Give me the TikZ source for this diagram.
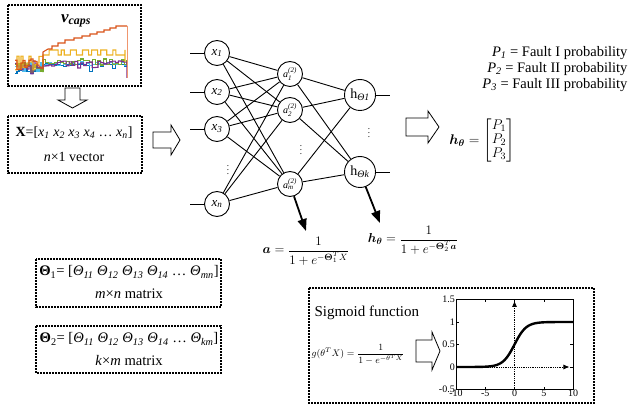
\documentclass[tikz,border=0pt]{standalone}
\usepackage{fix-cm}
\usepackage{amsmath}
\usepackage{fontspec}
\setmainfont{Liberation Serif}
\usetikzlibrary{arrows.meta}
\newcommand\fs[1]{\fontsize{#1}{#1}\selectfont}
\newcommand\Th[1]{\textit{Θ}\textsubscript{\textit{#1}}}
\newcommand\xv[1]{\textit{x}\textsubscript{\textit{#1}}}
\newcommand\harrowR[6]{\draw[harr] (#1,#2-#5) -- (#1+#3,#2-#5) -- (#1+#3,#2-#6) -- (#1+#4,#2) -- (#1+#3,#2+#6) -- (#1+#3,#2+#5) -- (#1,#2+#5) -- cycle;}
\definecolor{mO}{RGB}{217,83,25}
\definecolor{mLO}{RGB}{240,150,110}
\definecolor{mY}{RGB}{237,177,32}
\definecolor{mP}{RGB}{126,47,142}
\definecolor{mG}{RGB}{119,172,48}
\definecolor{mC}{RGB}{77,190,238}
\definecolor{mB}{RGB}{0,114,189}
\begin{document}
\begin{tikzpicture}[x=1pt,y=-1pt,
  dbox/.style={draw, line width=1.1pt, dash pattern=on 1.6pt off 1.4pt},
  neuron/.style={circle, draw, line width=0.9pt, minimum size=25pt, inner sep=0pt},
  oneuron/.style={circle, draw, line width=0.9pt, minimum size=31pt, inner sep=0pt},
  conn/.style={line width=0.9pt},
  harr/.style={line width=0.8pt, fill=white},
  bigarr/.style={line width=1.8pt, -{Triangle[length=12pt,width=9pt]}},
  chart/.style={line width=1.1pt, const plot},
  vd/.style={font=\fs{9}}]
\useasboundingbox (0,0) rectangle (637,406);

% ---------- top-left chart box ----------
\draw[dbox] (8,5) rectangle (141,86);
\node (vt) at (76,21) {\fs{17}\bfseries\itshape v\textsubscript{caps}};
\pgfmathsetseed{11}
\draw[chart, mB] plot[domain=15:43, samples=15] (\x,{66+8*rnd}) -- plot[domain=43:127, samples=30] (\x,{64+8*rnd*rnd*rnd});
\draw[chart, mC] plot[domain=15:43, samples=15] (\x,{62+10*rnd}) -- plot[domain=43:127, samples=30] (\x,{62+4*rnd});
\draw[chart, mG] plot[domain=15:43, samples=15] (\x,{60+16*rnd}) -- plot[domain=43:127, samples=30] (\x,{59+6*rnd});
\draw[chart, mP] plot[domain=15:43, samples=15] (\x,{61+13*rnd}) -- plot[domain=43:127, samples=30] (\x,{61+7*rnd}) -- (127,78);
\draw[chart, mY] plot[domain=15:43, samples=15] (\x,{56+14*rnd}) -- plot[domain=43:125, samples=28] (\x,{50+5*round(rnd)}) -- (125,62);
\draw[chart, mO] plot[domain=15:43, samples=15] (\x,{58+12*rnd}) -- (43,52) -- (48,49) -- (52,49) -- (52,46) -- (58,46) -- (58,43) -- (65,43) -- (65,40) -- (74,40) -- (74,38) -- (82,38) -- (82,36) -- (90,36) -- (90,34) -- (97,34) -- (97,32) -- (104,32) -- (104,30) -- (110,30) -- (110,28) -- (116,28) -- (116,26) -- (127,26);
\draw[mLO, line width=1pt] (127,26) -- (127,78);

% down hollow arrow
\draw[harr] (65,88) -- (80,88) -- (80,100) -- (87,100) -- (72.5,108) -- (58,100) -- (65,100) -- cycle;

% ---------- X box ----------
\draw[dbox] (8,116) rectangle (142,173);
\node (Xl) at (74,133) {\fs{14}\textbf{X}=[\xv{1} \xv{2} \xv{3} \xv{4} … \xv{n}]};
\node (Xv) at (74,157) {\fs{14}\textit{n}×1 vector};

\harrowR{153}{140}{18}{27}{8}{15}

% ---------- network ----------
\node[neuron] (x1) at (217,53) {\fs{13}\xv{1}};
\node[neuron] (x2) at (217,92) {\fs{13}\xv{2}};
\node[neuron] (x3) at (217,129) {\fs{13}\xv{3}};
\node[neuron] (xn) at (217,204) {\fs{13}\xv{n}};
\node[vd] (xd) at (228,167) {$\vdots$};
\node[neuron] (a1) at (290,74) {\fs{10}$\textit{a}_{\textit{1}}^{\textit{(2)}}$};
\node[neuron] (a2) at (290,110) {\fs{10}$\textit{a}_{\textit{2}}^{\textit{(2)}}$};
\node[neuron] (am) at (290,184) {\fs{10}$\textit{a}_{\textit{m}}^{\textit{(2)}}$};
\node[vd] (ad) at (301,147) {$\vdots$};
\node[oneuron] (h1) at (360,95) {\fs{14}h\textsubscript{\textit{Θ1}}};
\node[oneuron] (hk) at (360,172) {\fs{14}h\textsubscript{\textit{Θk}}};
\node[vd] (hd) at (369,130) {$\vdots$};

\foreach \n/\y in {x1/53,x2/92,x3/129,xn/204}{
  \coordinate (in\n) at (190,\y);
  \draw[conn] (in\n) -- (\n);
}
\foreach \i in {x1,x2,x3,xn}{\foreach \j in {a1,a2,am}{\draw[conn] (\i) -- (\j);}}
\foreach \i in {a1,a2,am}{\foreach \j in {h1,hk}{\draw[conn] (\i) -- (\j);}}
\coordinate (o1) at (390,95);
\coordinate (ok) at (390,172);
\draw[conn] (h1) -- (o1);
\draw[conn] (hk) -- (ok);

\coordinate (aend) at (306,231);
\coordinate (hend) at (380,223);
\draw[bigarr] (am.-72) -- (aend);
\draw[bigarr] (hk.-69) -- (hend);

\node (fa) at (306,251) {\fs{13}$\boldsymbol{a} = \dfrac{1}{1+e^{-\boldsymbol{\Theta}_1^T X}}$};
\node (fh) at (413,240) {\fs{13}$\boldsymbol{h_\theta} = \dfrac{1}{1+e^{-\boldsymbol{\Theta}_2^T \boldsymbol{a}}}$};

% ---------- outputs ----------
\node[anchor=east] (p1) at (631,53) {\fs{14.5}\textit{P}\textsubscript{\textit{1}} = Fault I probability};
\node[anchor=east] (p2) at (631,69) {\fs{14.5}\textit{P}\textsubscript{\textit{2}} = Fault II probability};
\node[anchor=east] (p3) at (631,85) {\fs{14.5}\textit{P}\textsubscript{\textit{3}} = Fault III probability};
\harrowR{406}{127}{22}{33}{9}{16}
\node (hm) at (482,141) {\fs{14}$\boldsymbol{h_\theta} = \begin{bmatrix}P_1\\P_2\\P_3\end{bmatrix}$};

% ---------- Theta boxes ----------
\draw[dbox] (36,259) rectangle (221,307);
\node (t1) at (129,272) {\fs{14.6}\textbf{Θ}\textsubscript{1}= [\Th{11} \Th{12} \Th{13} \Th{14} … \Th{mn}]};
\node (t1b) at (129,294) {\fs{14.6}\textit{m}×\textit{n} matrix};
\draw[dbox] (36,326) rectangle (221,373);
\node (t2) at (129,339) {\fs{14.6}\textbf{Θ}\textsubscript{2}= [\Th{11} \Th{12} \Th{13} \Th{14} … \Th{km}]};
\node (t2b) at (129,361) {\fs{14.6}\textit{k}×\textit{m} matrix};

% ---------- sigmoid box ----------
\draw[dbox] (309,288) rectangle (594,403);
\node[anchor=west] (sg) at (311,313) {\fs{15}Sigmoid function};
\node[anchor=west] (gf) at (308,354) {\fs{9.5}$g(\theta^T X) = \dfrac{1}{1-e^{-\theta^T X}}$};
\harrowR{416}{351}{16}{24}{11}{19}

\begin{scope}[shift={(514.5,367)}, x=5.85pt, y=45pt]
  \draw[line width=0.6pt] (-10,-0.5) rectangle (10,1.5);
  \foreach \v in {-5,0,5}{
    \draw[line width=0.5pt] (\v,-0.5) -- (\v,-0.44);
    \draw[line width=0.5pt] (\v,1.5) -- (\v,1.44);
    }
  \foreach \v in {0,0.5,1}{
    \draw[line width=0.5pt] (-10,\v) -- (-9.57,\v);
    \draw[line width=0.5pt] (10,\v) -- (9.57,\v);
    }
  \foreach \v/\l in {1.5/1.5,1/1,0.5/0.5,0/0,-0.5/-0.5}{
    \node[anchor=east, inner sep=1pt, font=\fs{10}] at (-10,\v) {\l};
  }
  \foreach \v in {-10,-5,0,5,10}{
    \node[anchor=north, inner sep=0.5pt, font=\fs{10}] at (\v,-0.5) {\v};
  }
  \draw[densely dotted, line width=0.8pt, -{Latex[length=6pt,width=5pt]}] (0,-0.5) -- (0,1.47);
  \draw[densely dotted, line width=0.8pt, -{Latex[length=6pt,width=5pt]}] (-10,0) -- (9.4,0);
  \draw[line width=2.4pt] plot[domain=-10:10, samples=81, smooth] (\x,{1/(1+exp(-max(-8,\x)))});
\end{scope}
\end{tikzpicture}
\end{document}
